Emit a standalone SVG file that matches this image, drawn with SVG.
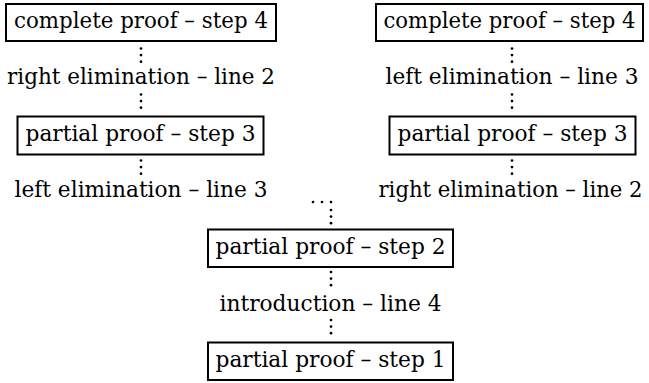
<svg xmlns="http://www.w3.org/2000/svg" width="649" height="383" viewBox="0 0 649 383">
<style>
  text { font-family: "DejaVu Serif", serif; font-size: 22px; fill: #000; text-anchor: middle; }
  .box { fill: #fff; stroke: #000; stroke-width: 2; }
  .dot { fill: #000; }
</style>
<defs>
  <g id="vdots">
    <circle class="dot" cx="0" cy="0" r="1.35"/>
    <circle class="dot" cx="0" cy="6.6" r="1.35"/>
    <circle class="dot" cx="0" cy="13.2" r="1.35"/>
  </g>
</defs>
<rect width="649" height="383" fill="#fff"/>

<g id="connectors">
  <use href="#vdots" x="141" y="48.5"/>
  <use href="#vdots" x="141" y="94.5"/>
  <use href="#vdots" x="141" y="160.5"/>
  <use href="#vdots" x="512" y="48.5"/>
  <use href="#vdots" x="512" y="94.5"/>
  <use href="#vdots" x="512" y="160.5"/>
  <use href="#vdots" x="331" y="210"/>
  <use href="#vdots" x="331" y="272"/>
  <use href="#vdots" x="331" y="320"/>
  <text x="141" y="84" textLength="268" lengthAdjust="spacingAndGlyphs">right elimination – line 2</text>
  <text x="141" y="197" textLength="253" lengthAdjust="spacingAndGlyphs">left elimination – line 3</text>
  <text x="512" y="84" textLength="253" lengthAdjust="spacingAndGlyphs">left elimination – line 3</text>
  <text x="642.5" y="197" textLength="264" lengthAdjust="spacingAndGlyphs" style="text-anchor:end">right elimination – line 2</text>
  <text x="330.5" y="311" textLength="222" lengthAdjust="spacingAndGlyphs">introduction – line 4</text>
  <g id="ellipsis">
    <circle class="dot" cx="313" cy="202" r="1.35"/>
    <circle class="dot" cx="322" cy="202" r="1.35"/>
    <circle class="dot" cx="331" cy="202" r="1.35"/>
  </g>
</g>

<g id="left-complete-4">
  <rect class="box" x="6" y="4" width="270" height="37"/>
  <text x="141" y="28" textLength="254" lengthAdjust="spacingAndGlyphs">complete proof – step 4</text>
</g>
<g id="left-partial-3">
  <rect class="box" x="17.5" y="116.5" width="246" height="38"/>
  <text x="140.5" y="141" textLength="230" lengthAdjust="spacingAndGlyphs">partial proof – step 3</text>
</g>
<g id="right-complete-4">
  <rect class="box" x="376" y="4" width="267" height="37"/>
  <text x="509.5" y="28" textLength="252" lengthAdjust="spacingAndGlyphs">complete proof – step 4</text>
</g>
<g id="right-partial-3">
  <rect class="box" x="389.5" y="116.5" width="246" height="38"/>
  <text x="512.5" y="141" textLength="230" lengthAdjust="spacingAndGlyphs">partial proof – step 3</text>
</g>
<g id="partial-2">
  <rect class="box" x="208" y="229.5" width="245" height="37.5"/>
  <text x="330.5" y="254" textLength="230" lengthAdjust="spacingAndGlyphs">partial proof – step 2</text>
</g>
<g id="partial-1">
  <rect class="box" x="208" y="342.5" width="245" height="37.5"/>
  <text x="330.5" y="367" textLength="230" lengthAdjust="spacingAndGlyphs">partial proof – step 1</text>
</g>
</svg>
